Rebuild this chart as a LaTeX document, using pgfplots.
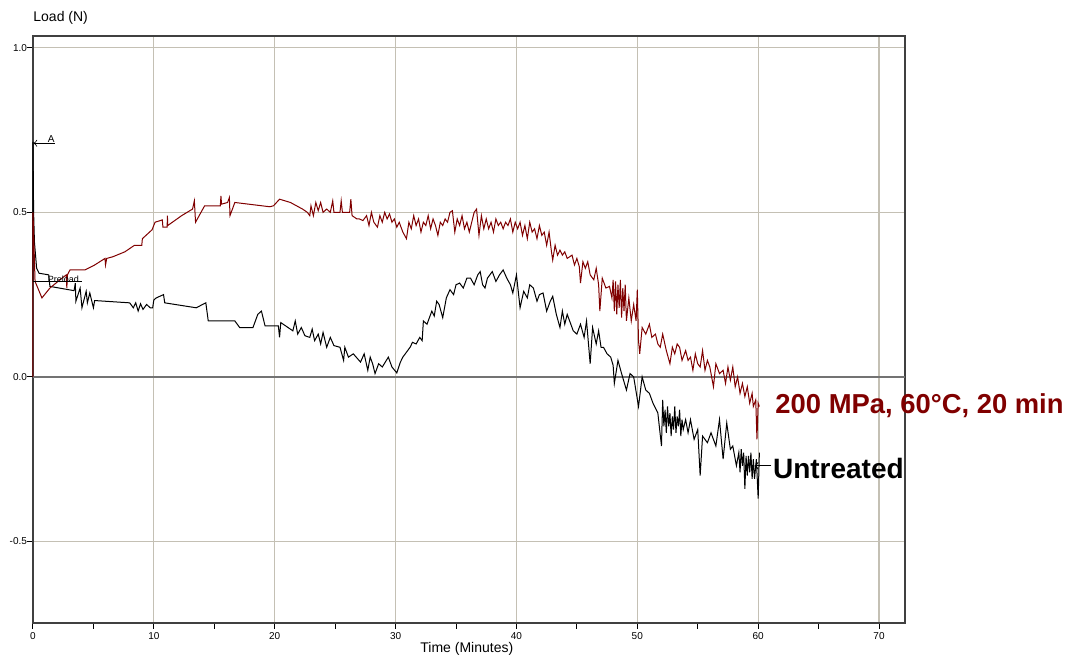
\documentclass[border=0pt]{standalone}
\usepackage{fontspec}
\setmainfont{Liberation Sans}
\usepackage{pgfplots}
\pgfplotsset{compat=1.18}
\definecolor{maroon}{RGB}{128,0,0}
\definecolor{gridc}{RGB}{196,192,180}

\begin{document}
\begin{tikzpicture}
\begin{axis}[
  scale only axis, width=436pt, height=293.5pt,
  xmin=0, xmax=72.15, ymin=-0.748, ymax=1.036,
  xtick={0,10,...,70}, minor xtick={5,15,...,65},
  ytick={-0.5,0,0.5,1}, yticklabels={-0.5,0.0,0.5,1.0},
  xtick pos=bottom, ytick pos=left,
  tick align=outside, major tick length=3pt, minor tick length=3pt,
  tick style={black, line width=0.5pt},
  grid=major, major grid style={gridc, line width=0.6pt},
  extra y ticks={0}, extra y tick labels={},
  extra y tick style={grid=major, major grid style={black!55, line width=0.9pt}},
  axis line style={black!75, line width=0.7pt},
  tick label style={font=\fontsize{5}{6}\selectfont},
  xticklabel style={yshift=2pt},
  yticklabel style={xshift=3.5pt},
  /pgf/number format/assume math mode=true,
  clip=false,
]
% untreated
\addplot[black, line width=0.5pt] coordinates {
(0,0.29) (0,0.714) (0.05,0.50) (0.12,0.41) (0.3,0.33) (0.5,0.315) (1.3,0.31)
(1.4,0.275) (3.4,0.262) (3.5,0.285) (3.55,0.23) (3.9,0.27) (4.05,0.21) (4.4,0.26)
(4.5,0.225) (4.7,0.255) (5.0,0.21) (5.1,0.232) (8.0,0.225) (8.3,0.21) (8.5,0.225)
(8.7,0.20) (8.9,0.222) (9.1,0.205) (9.4,0.22) (9.7,0.21) (9.9,0.21) (10.0,0.234)
(10.2,0.24) (10.8,0.25) (10.9,0.225) (13.5,0.21) (14.3,0.225) (14.5,0.17) (16.7,0.17)
(17.1,0.15) (18.2,0.15) (18.6,0.19) (18.9,0.20) (19.2,0.155) (20.3,0.155) (20.4,0.12)
(20.5,0.165) (21.5,0.14) (21.7,0.17) (21.9,0.13) (22.2,0.15) (22.5,0.125) (22.9,0.12)
(23.1,0.145) (23.3,0.11) (23.6,0.13) (23.8,0.10) (24.0,0.135) (24.3,0.09) (24.6,0.12)
(24.9,0.095) (25.4,0.09) (25.7,0.05) (25.8,0.09) (26.1,0.06) (26.5,0.07) (27.1,0.045)
(27.4,0.07) (27.7,0.02) (27.9,0.06) (28.1,0.04) (28.3,0.01) (28.6,0.04) (28.9,0.03)
(29.4,0.06) (29.7,0.03) (30.1,0.012) (30.4,0.045) (30.6,0.06) (30.9,0.075) (31.2,0.09)
(31.4,0.105) (31.7,0.10) (32.0,0.12) (32.2,0.11) (32.3,0.17) (32.6,0.16) (33.0,0.20)
(33.2,0.185) (33.4,0.23) (33.6,0.22) (33.9,0.18) (34.2,0.24) (34.5,0.265) (34.8,0.25)
(35.0,0.28) (35.3,0.285) (35.6,0.27) (35.9,0.30) (36.2,0.30) (36.5,0.28) (36.8,0.31)
(37.0,0.32) (37.2,0.28) (37.4,0.27) (37.6,0.30) (38.0,0.32) (38.3,0.29) (38.6,0.31)
(38.9,0.325) (39.2,0.30) (39.5,0.28) (39.7,0.255) (40.0,0.31) (40.3,0.21) (40.6,0.26)
(40.9,0.24) (41.1,0.28) (41.4,0.27) (41.7,0.23) (41.9,0.25) (42.2,0.255) (42.5,0.20)
(42.8,0.23) (43.0,0.245) (43.3,0.19) (43.6,0.15) (43.8,0.20) (44.0,0.16) (44.2,0.19)
(44.4,0.17) (44.7,0.14) (45.0,0.13) (45.3,0.16) (45.6,0.12) (45.8,0.17) (46.1,0.04)
(46.3,0.15) (46.6,0.10) (46.8,0.14) (47.0,0.09) (47.2,0.09) (47.5,0.07) (47.8,0.06)
(48.0,0.035) (48.1,-0.02) (48.4,0.05) (48.7,0.01) (49.1,-0.04) (49.4,0.01) (49.7,0.0)
(50.1,-0.09) (50.4,0.0) (50.7,-0.04) (51.0,-0.05) (51.3,-0.08) (51.7,-0.11) (52.0,-0.21)
(52.1,-0.07) (52.2,-0.15) (52.3,-0.10) (52.4,-0.17) (52.5,-0.09) (52.6,-0.15) (52.7,-0.11)
(52.8,-0.18) (52.9,-0.12) (53.0,-0.16) (53.1,-0.09) (53.2,-0.17) (53.3,-0.12) (53.4,-0.15)
(53.5,-0.10) (53.6,-0.18) (53.7,-0.13) (53.8,-0.16) (54.0,-0.13) (54.2,-0.17) (54.4,-0.13)
(54.7,-0.19) (55.0,-0.16) (55.2,-0.30) (55.4,-0.18) (55.8,-0.20) (56.1,-0.17) (56.5,-0.21)
(56.8,-0.13) (57.1,-0.25) (57.4,-0.14) (57.7,-0.22) (57.9,-0.21) (58.2,-0.27) (58.4,-0.23)
(58.5,-0.29) (58.6,-0.22) (58.7,-0.27) (58.8,-0.23) (58.9,-0.34) (59.0,-0.24) (59.1,-0.30)
(59.2,-0.24) (59.3,-0.29) (59.4,-0.23) (59.5,-0.31) (59.6,-0.25) (59.7,-0.31) (59.85,-0.25)
(60.0,-0.37) (60.1,-0.23)
};
% 200 MPa, 60 C, 20 min
\addplot[maroon, line width=0.5pt] coordinates {
(0,0.0) (0,0.5) (0.17,0.29) (0.74,0.24) (1.4,0.27) (2.4,0.30) (2.75,0.31) (2.8,0.27)
(2.85,0.31) (3.06,0.325) (4.3,0.325) (5.1,0.34) (5.96,0.36) (6.0,0.34) (6.1,0.36)
(6.6,0.365) (7.6,0.38) (8.4,0.40) (9.0,0.40) (9.05,0.42) (9.85,0.447) (10.1,0.47)
(10.7,0.477) (10.75,0.455) (11.1,0.455) (11.12,0.49) (11.15,0.46) (12.3,0.49) (13.2,0.51)
(13.35,0.535) (13.45,0.47) (14.2,0.52) (15.5,0.52) (15.55,0.55) (15.6,0.525) (16.1,0.53)
(16.25,0.545) (16.3,0.49) (16.7,0.53) (19.6,0.517) (19.9,0.52) (20.4,0.54) (21.3,0.53)
(22.3,0.51) (22.7,0.50) (22.9,0.49) (23.0,0.52) (23.2,0.49) (23.4,0.53) (23.6,0.505)
(23.8,0.53) (24.0,0.50) (24.3,0.51) (24.6,0.50) (24.8,0.535) (24.9,0.50) (25.4,0.50)
(25.5,0.535) (25.6,0.50) (26.2,0.50) (26.3,0.54) (26.4,0.49) (26.8,0.48) (27.0,0.48)
(27.3,0.475) (27.6,0.49) (27.8,0.46) (28.0,0.50) (28.2,0.47) (28.5,0.455) (28.7,0.49)
(28.9,0.47) (29.1,0.50) (29.3,0.48) (29.5,0.495) (29.7,0.47) (29.9,0.48) (30.1,0.455)
(30.3,0.47) (30.6,0.44) (30.9,0.42) (31.1,0.47) (31.3,0.45) (31.5,0.49) (31.7,0.46)
(31.9,0.48) (32.1,0.44) (32.3,0.47) (32.5,0.46) (32.7,0.49) (32.9,0.45) (33.1,0.48)
(33.3,0.46) (33.5,0.43) (33.7,0.47) (33.9,0.46) (34.1,0.48) (34.3,0.47) (34.5,0.50)
(34.7,0.505) (34.9,0.44) (35.1,0.48) (35.3,0.46) (35.5,0.49) (35.7,0.45) (35.9,0.47)
(36.1,0.44) (36.3,0.47) (36.5,0.50) (36.7,0.51) (36.9,0.43) (37.1,0.49) (37.3,0.45)
(37.5,0.48) (37.7,0.45) (37.9,0.47) (38.1,0.44) (38.3,0.48) (38.5,0.46) (38.7,0.47)
(38.9,0.45) (39.1,0.47) (39.3,0.46) (39.5,0.48) (39.7,0.44) (39.9,0.47) (40.1,0.45)
(40.3,0.47) (40.5,0.43) (40.7,0.46) (40.9,0.42) (41.1,0.47) (41.3,0.44) (41.5,0.45)
(41.7,0.42) (41.9,0.46) (42.1,0.43) (42.3,0.44) (42.5,0.40) (42.7,0.44) (42.9,0.38)
(43.0,0.355) (43.2,0.40) (43.4,0.37) (43.6,0.385) (43.8,0.37) (44.0,0.38) (44.2,0.36)
(44.4,0.365) (44.6,0.37) (44.8,0.34) (45.0,0.36) (45.2,0.335) (45.3,0.285) (45.5,0.35)
(45.7,0.33) (45.9,0.35) (46.1,0.31) (46.4,0.295) (46.6,0.33) (46.8,0.28) (46.9,0.20)
(47.1,0.30) (47.4,0.27) (47.7,0.275) (47.9,0.24) (48.0,0.295) (48.1,0.20) (48.2,0.29)
(48.3,0.19) (48.4,0.28) (48.5,0.21) (48.6,0.295) (48.7,0.18) (48.8,0.27) (48.9,0.20)
(49.0,0.28) (49.1,0.17) (49.3,0.24) (49.5,0.17) (49.7,0.22) (49.9,0.17) (50.0,0.265)
(50.1,0.11) (50.2,0.07) (50.4,0.15) (50.7,0.13) (51.0,0.16) (51.2,0.12) (51.5,0.13)
(51.7,0.10) (51.9,0.09) (52.1,0.13) (52.4,0.08) (52.7,0.04) (52.9,0.09) (53.1,0.07)
(53.3,0.10) (53.5,0.09) (53.7,0.05) (54.0,0.08) (54.2,0.05) (54.4,0.06) (54.6,0.02)
(54.8,0.07) (55.0,0.04) (55.2,0.03) (55.4,0.08) (55.6,0.02) (55.8,0.05) (56.0,0.03)
(56.3,-0.03) (56.5,0.04) (56.8,0.01) (57.1,0.02) (57.3,-0.02) (57.5,0.03) (57.7,-0.01)
(57.9,0.03) (58.1,-0.03) (58.3,0.0) (58.5,-0.05) (58.7,-0.02) (58.9,-0.06) (59.1,-0.03)
(59.3,-0.08) (59.5,-0.05) (59.6,-0.09) (59.8,-0.07) (59.9,-0.19) (60.0,-0.08) (60.1,-0.09)
};
% small markers from the instrument software
\draw[->, line width=0.4pt] (axis cs:1.8,0.71) -- (axis cs:0.05,0.71);
\node[font=\fontsize{5}{6}\selectfont, anchor=south, inner sep=0.3pt] at (axis cs:1.5,0.71) {A};
\draw[line width=0.4pt] (axis cs:0,0.289) -- (axis cs:4.05,0.289);
\node[font=\fontsize{4.5}{5}\selectfont, anchor=south west, inner sep=0pt] at (axis cs:1.2,0.285) {Preload};
% series labels
\draw[->, line width=0.5pt] (axis cs:61.1,-0.27) -- (axis cs:59.7,-0.27);
\node[anchor=west, font=\bfseries\fontsize{13.7}{16}\selectfont, text=maroon, inner sep=0pt] at (axis cs:61.4,-0.088) {200 MPa, 60°C, 20 min};
\node[anchor=west, font=\bfseries\fontsize{14}{16}\selectfont, inner sep=0pt] at (axis cs:61.2,-0.277) {Untreated};
% axis titles
\node[anchor=west, font=\fontsize{7}{8}\selectfont, inner sep=0pt, yshift=9pt] at (rel axis cs:0,1) {Load (N)};
\node[font=\fontsize{7}{8}\selectfont, inner sep=0pt, yshift=-13pt] at (rel axis cs:0.4975,0) {Time (Minutes)};
\end{axis}
\pgfresetboundingbox
\path ([xshift=-16.5pt,yshift=-16.5pt]current axis.south west) rectangle ([xshift=81.5pt,yshift=18pt]current axis.north east);
\end{tikzpicture}
\end{document}
